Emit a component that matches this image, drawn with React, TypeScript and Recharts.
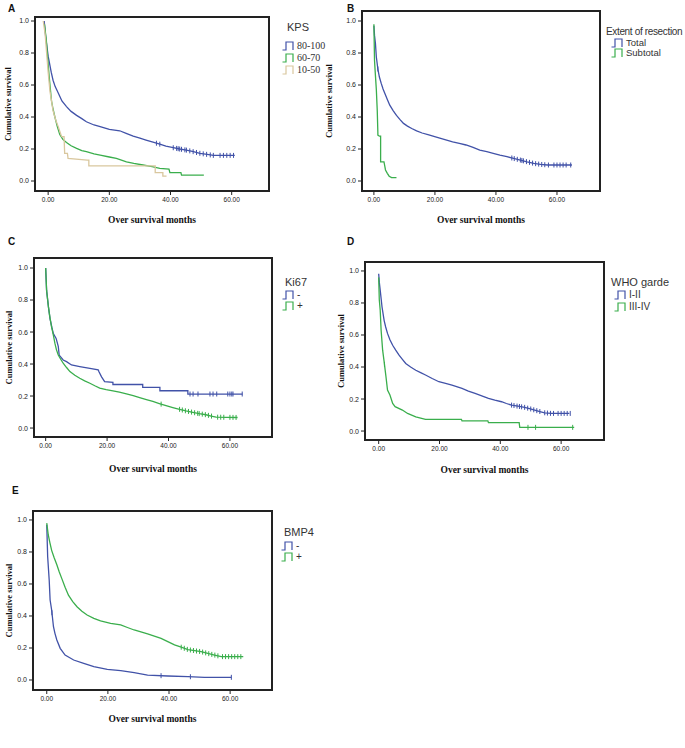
import React from 'react';
import { ComposedChart, Line, Scatter, XAxis, YAxis, ReferenceArea } from 'recharts';

const BLUE = '#4152a8';
const GREEN = '#3aae4c';
const TAN = '#d9c79e';

const yTicks = [0, 0.2, 0.4, 0.6, 0.8, 1.0];
const xTicks = [0, 20, 40, 60];

// A: KPS
const kpsHighTime = [-1.3, -0.8, -0.4, 0, 0.5, 1, 1.6, 2.3, 3.3, 4.5, 6, 7.5, 9.3, 11, 12.5, 15, 17, 20, 23.4, 25.5, 27.8, 30, 32, 34, 36.5, 38.5, 40.9, 43, 45.2, 47.5, 49.6, 52, 54, 61];
const kpsHighSurv = [1.0, 0.9, 0.84, 0.78, 0.73, 0.68, 0.63, 0.59, 0.55, 0.5, 0.465, 0.435, 0.41, 0.39, 0.37, 0.35, 0.34, 0.322, 0.314, 0.298, 0.28, 0.268, 0.256, 0.244, 0.23, 0.218, 0.208, 0.2, 0.193, 0.183, 0.173, 0.166, 0.16, 0.16];
const kpsHighCensor = [35.4, 36.5, 40.9, 42, 42.5, 43, 43.6, 44.7, 45.2, 46.3, 47.4, 48.5, 49.6, 50.7, 51.8, 53, 54, 56.2, 57.3, 58.4, 59.5, 60.6];
const kpsMidTime = [-1.2, -0.6, -0.2, 0.3, 0.7, 1.1, 1.6, 2.2, 3, 3.8, 4.8, 6, 7.5, 9.3, 11, 12.5, 15, 17, 20, 22.3, 25.6, 28, 31, 34, 36.5, 39.5, 39.8, 43.4, 43.6, 50.9];
const kpsMidSurv = [0.98, 0.88, 0.78, 0.66, 0.58, 0.5, 0.45, 0.4, 0.34, 0.29, 0.26, 0.24, 0.22, 0.204, 0.19, 0.183, 0.17, 0.162, 0.15, 0.141, 0.12, 0.11, 0.1, 0.09, 0.079, 0.075, 0.052, 0.052, 0.037, 0.037];
const kpsLowTime = [-1.6, -1, -0.5, 0, 0.6, 1.6, 2.5, 3.3, 4.4, 5.2, 5.4, 6.3, 6.5, 12.8, 13.3, 13.3, 35, 35, 37.5, 37.5, 38.7];
const kpsLowSurv = [1.0, 0.92, 0.8, 0.68, 0.56, 0.44, 0.38, 0.34, 0.277, 0.277, 0.173, 0.173, 0.141, 0.131, 0.131, 0.094, 0.094, 0.052, 0.052, 0.031, 0.031];

// B: extent of resection
const totalTime = [0, 0.2, 0.5, 0.8, 1.3, 1.8, 2.4, 3, 3.6, 4.4, 5.2, 6.3, 7.4, 8.5, 9.7, 11, 12.4, 14, 15.8, 18, 20.2, 23, 25.8, 28, 30.2, 32.5, 34.7, 37, 39.1, 41.3, 43.6, 45.8, 48, 50.2, 52.4, 54.6, 56.9, 64.9];
const totalSurv = [0.97, 0.91, 0.86, 0.775, 0.7, 0.65, 0.61, 0.575, 0.547, 0.51, 0.474, 0.44, 0.41, 0.385, 0.36, 0.343, 0.328, 0.313, 0.3, 0.288, 0.276, 0.26, 0.245, 0.235, 0.225, 0.21, 0.193, 0.183, 0.173, 0.162, 0.152, 0.141, 0.131, 0.12, 0.11, 0.104, 0.1, 0.1];
const totalCensor = [1.3, 45.2, 46, 47, 48, 48.5, 49, 50, 51, 52, 53, 54, 55, 56, 57.2, 59, 60, 61, 62, 63, 64.5];
const subtotalTime = [0, 0.2, 0.4, 0.8, 1.1, 1.3, 1.3, 1.8, 2.2, 2.2, 3.3, 3.5, 3.8, 4.4, 5, 5.8, 7.4];
const subtotalSurv = [0.98, 0.755, 0.69, 0.57, 0.44, 0.3, 0.287, 0.28, 0.28, 0.12, 0.12, 0.1, 0.069, 0.048, 0.03, 0.021, 0.021];

// C: Ki67
const kiNegTime = [0, 0.3, 0.9, 1.4, 2, 2.5, 3.4, 4.1, 4.4, 5.7, 6.8, 8.4, 11.1, 14.4, 17.1, 17.4, 18.2, 19.2, 21.9, 21.9, 31.6, 31.6, 37.2, 37.2, 46.3, 46.3, 64.1];
const kiNegSurv = [1.0, 0.86, 0.757, 0.685, 0.63, 0.59, 0.56, 0.51, 0.456, 0.425, 0.415, 0.394, 0.384, 0.373, 0.363, 0.35, 0.32, 0.29, 0.285, 0.272, 0.272, 0.254, 0.254, 0.233, 0.233, 0.2125, 0.2125];
const kiNegCensor = [47, 48, 49.6, 53.5, 54.5, 55.7, 59.3, 60, 60.6, 61, 64];
const kiPosTime = [0, 0.3, 0.9, 1.4, 1.9, 2.5, 3, 3.5, 4.1, 4.9, 5.7, 6.8, 7.9, 9.5, 11.1, 12.7, 14.4, 16, 17.6, 19.7, 21.9, 24, 26.3, 28.5, 30.6, 32.8, 34.9, 37, 39.2, 41.4, 43.6, 45.7, 47.9, 50, 52.2, 53.9, 55.5, 62.5];
const kiPosSurv = [1.0, 0.86, 0.757, 0.69, 0.633, 0.58, 0.53, 0.49, 0.456, 0.43, 0.405, 0.378, 0.353, 0.33, 0.311, 0.295, 0.28, 0.264, 0.249, 0.24, 0.232, 0.225, 0.213, 0.202, 0.19, 0.178, 0.166, 0.153, 0.14, 0.128, 0.117, 0.107, 0.098, 0.09, 0.083, 0.075, 0.068, 0.066];
const kiPosCensor = [37.6, 43.6, 44.5, 45.5, 46.5, 47.5, 48.5, 49.5, 50, 51, 52, 53, 54, 56, 57, 58, 60, 61, 62];

// D: WHO grade
const whoLowTime = [0, 0.2, 0.5, 1.1, 1.8, 2.3, 2.9, 3.7, 4.6, 5.6, 6.7, 7.8, 8.9, 10.5, 12.2, 13.8, 15.4, 17.6, 19.8, 22, 24.1, 27.4, 29.5, 31.7, 33.9, 36.1, 38.2, 40.4, 42, 43.7, 45.8, 48, 49.6, 51.3, 53, 54.6, 56.7, 62.7];
const whoLowSurv = [0.983, 0.93, 0.88, 0.775, 0.69, 0.65, 0.61, 0.57, 0.536, 0.505, 0.474, 0.448, 0.422, 0.4, 0.38, 0.365, 0.35, 0.328, 0.308, 0.297, 0.287, 0.266, 0.25, 0.235, 0.22, 0.204, 0.193, 0.183, 0.172, 0.162, 0.155, 0.148, 0.14, 0.131, 0.122, 0.114, 0.11, 0.11];
const whoLowCensor = [43.7, 44.5, 45.5, 46.3, 47, 48, 49, 50, 51, 52, 53, 54.6, 55.5, 56.5, 57.5, 59, 60, 61, 62, 63];
const whoHighTime = [0, 0.2, 0.5, 0.8, 1.3, 1.8, 2.4, 2.9, 3.7, 4.6, 5.4, 7.8, 9.5, 12.2, 15.4, 27.2, 27.4, 35.9, 36.1, 46.2, 46.4, 64.3];
const whoHighSurv = [0.96, 0.82, 0.755, 0.63, 0.505, 0.432, 0.339, 0.256, 0.225, 0.173, 0.152, 0.131, 0.11, 0.089, 0.073, 0.073, 0.064, 0.064, 0.052, 0.052, 0.023, 0.023];
const whoHighCensor = [1.9, 49.1, 51.6, 63.8];

// E: BMP4
const bmpNegTime = [0, 0.3, 0.8, 1.1, 1.6, 2.2, 2.7, 3.3, 4.4, 6, 8.8, 12.1, 15.4, 19.8, 24.2, 28.6, 33, 39.6, 46.2, 51.6, 60.4];
const bmpNegSurv = [0.97, 0.77, 0.625, 0.5, 0.4375, 0.333, 0.29, 0.25, 0.198, 0.156, 0.125, 0.104, 0.083, 0.067, 0.058, 0.046, 0.031, 0.025, 0.021, 0.0167, 0.0167];
const bmpNegCensor = [1.7, 37.4, 47, 60.4];
const bmpPosTime = [0, 0.5, 1, 1.6, 2.4, 3.3, 4.1, 4.9, 6, 7.1, 8.5, 9.9, 11.5, 13.2, 15.4, 17.6, 20.9, 24.2, 26.4, 28.6, 30.8, 33, 35.2, 37.4, 39.6, 41.8, 44, 46.2, 48.4, 50.5, 52.7, 54.9, 57.1, 64.3];
const bmpPosSurv = [0.98, 0.906, 0.86, 0.81, 0.765, 0.72, 0.675, 0.635, 0.58, 0.53, 0.49, 0.458, 0.43, 0.406, 0.385, 0.37, 0.354, 0.344, 0.328, 0.3125, 0.3, 0.2875, 0.274, 0.26, 0.24, 0.219, 0.205, 0.19, 0.183, 0.177, 0.166, 0.156, 0.146, 0.146];
const bmpPosCensor = [44, 45, 46, 47, 48, 49, 50, 51, 52, 53, 54, 55, 56, 57.5, 58.5, 59.5, 60.5, 61.5, 62.5, 63.5];

type Series = { name: string; color: string; time: number[]; surv: number[]; censor: number[] };

const toPoints = (time: number[], surv: number[]) => time.map((t, i) => ({ t, s: surv[i] }));

// put each censor tick on the drawn curve
const toCensor = (censor: number[], time: number[], surv: number[]) =>
  censor.map((c) => {
    let s = surv[surv.length - 1];
    for (let i = 0; i < time.length - 1; i++) {
      if (c >= time[i] && c <= time[i + 1]) {
        const span = time[i + 1] - time[i];
        s = span === 0 ? surv[i + 1] : surv[i] + ((c - time[i]) / span) * (surv[i + 1] - surv[i]);
        break;
      }
    }
    return { t: c, s };
  });

const SANS = '"Liberation Sans", Arial, sans-serif';
const SERIF = '"Liberation Serif", "Times New Roman", serif';

const panels = [
  {
    letter: 'A', letterAt: [8, 3],
    box: { left: 0, top: 0, width: 345, height: 232 },
    frame: { l: 35, t: 17, r: 269, b: 191 },
    xDomain: [-4.3, 72.2], yDomain: [-0.0625, 1.025],
    yTitleX: 8, xTitleBottom: 223,
    legend: { title: 'KPS', x: 287, titleTop: 21, titleSize: 11, spacing: 0, iconX: 282, rows: [41, 53, 65], font: SERIF, size: 10 },
    series: [
      { name: '80-100', color: BLUE, time: kpsHighTime, surv: kpsHighSurv, censor: kpsHighCensor },
      { name: '60-70', color: GREEN, time: kpsMidTime, surv: kpsMidSurv, censor: [] },
      { name: '10-50', color: TAN, time: kpsLowTime, surv: kpsLowSurv, censor: [] },
    ],
  },
  {
    letter: 'B', letterAt: [347, 3],
    box: { left: 320, top: 0, width: 365, height: 232 },
    frame: { l: 362, t: 11, r: 600, b: 191 },
    xDomain: [-3.9, 74.1], yDomain: [-0.0625, 1.0625],
    yTitleX: 329, xTitleBottom: 223,
    legend: { title: 'Extent of resection', x: 606, titleTop: 26, titleSize: 10, spacing: -0.35, iconX: 611, rows: [38, 48], font: SANS, size: 9.5 },
    series: [
      { name: 'Total', color: BLUE, time: totalTime, surv: totalSurv, censor: totalCensor },
      { name: 'Subtotal', color: GREEN, time: subtotalTime, surv: subtotalSurv, censor: [] },
    ],
  },
  {
    letter: 'C', letterAt: [8, 236],
    box: { left: 0, top: 240, width: 330, height: 240 },
    frame: { l: 34, t: 258, r: 272, b: 437 },
    xDomain: [-3.8, 73.7], yDomain: [-0.056, 1.0625],
    yTitleX: 9, xTitleBottom: 472,
    legend: { title: 'Ki67', x: 285, titleTop: 276, titleSize: 11, spacing: 0, iconX: 282, rows: [290, 301], font: SANS, size: 10 },
    series: [
      { name: '-', color: BLUE, time: kiNegTime, surv: kiNegSurv, censor: kiNegCensor },
      { name: '+', color: GREEN, time: kiPosTime, surv: kiPosSurv, censor: kiPosCensor },
    ],
  },
  {
    letter: 'D', letterAt: [347, 236],
    box: { left: 330, top: 240, width: 355, height: 240 },
    frame: { l: 365, t: 262, r: 604, b: 440 },
    xDomain: [-4.5, 74.1], yDomain: [-0.056, 1.056],
    yTitleX: 341, xTitleBottom: 473,
    legend: { title: 'WHO garde', x: 611, titleTop: 276, titleSize: 11, spacing: 0, iconX: 614, rows: [290, 302], font: SANS, size: 10 },
    series: [
      { name: 'I-II', color: BLUE, time: whoLowTime, surv: whoLowSurv, censor: whoLowCensor },
      { name: 'III-IV', color: GREEN, time: whoHighTime, surv: whoHighSurv, censor: whoHighCensor },
    ],
  },
  {
    letter: 'E', letterAt: [12, 485],
    box: { left: 0, top: 495, width: 345, height: 235 },
    frame: { l: 33, t: 511, r: 272, b: 690 },
    xDomain: [-4.5, 73.7], yDomain: [-0.0625, 1.056],
    yTitleX: 9, xTitleBottom: 722,
    legend: { title: 'BMP4', x: 284, titleTop: 526, titleSize: 11, spacing: 0, iconX: 281, rows: [541, 552], font: SANS, size: 10 },
    series: [
      { name: '-', color: BLUE, time: bmpNegTime, surv: bmpNegSurv, censor: bmpNegCensor },
      { name: '+', color: GREEN, time: bmpPosTime, surv: bmpPosSurv, censor: bmpPosCensor },
    ],
  },
];

function StepIcon({ color }: { color: string }) {
  return (
    <svg width={13} height={10} style={{ display: 'block' }}>
      <path d="M0.5 9 H4 V1 H11 V9" fill="none" stroke={color} strokeWidth={1.2} />
    </svg>
  );
}

function KMPanel({ p }: { p: (typeof panels)[number] }) {
  const { box, frame } = p;
  const margin = { top: frame.t - box.top, right: box.left + box.width - frame.r, left: 0, bottom: 0 };
  const yAxisWidth = frame.l - box.left;
  const xAxisHeight = box.top + box.height - frame.b;
  return (
    <>
      <div style={{ position: 'absolute', left: p.letterAt[0], top: p.letterAt[1], font: `bold 10px ${SANS}`, color: '#111', lineHeight: '12px' }}>
        {p.letter}
      </div>
      <div style={{ position: 'absolute', left: box.left, top: box.top }}>
        <ComposedChart width={box.width} height={box.height} margin={margin}>
          <XAxis
            type="number"
            dataKey="t"
            domain={p.xDomain}
            ticks={xTicks}
            allowDataOverflow
            height={xAxisHeight}
            axisLine={false}
            tickSize={4}
            tickLine={{ stroke: '#222' }}
            tickFormatter={(v: number) => v.toFixed(2)}
            tick={{ fontSize: 6.5, fill: '#222', fontFamily: SANS }}
            label={{
              value: 'Over survival months',
              position: 'insideBottom',
              offset: box.top + box.height - p.xTitleBottom,
              fill: '#111',
              fontSize: 9.5,
              fontWeight: 'bold',
              fontFamily: SERIF,
            }}
          />
          <YAxis
            type="number"
            dataKey="s"
            domain={p.yDomain}
            ticks={yTicks}
            allowDataOverflow
            width={yAxisWidth}
            axisLine={false}
            tickSize={4}
            tickLine={{ stroke: '#222' }}
            tickFormatter={(v: number) => v.toFixed(1)}
            tick={{ fontSize: 7, fill: '#222', fontFamily: SANS }}
            label={{
              value: 'Cumulative survival',
              angle: -90,
              position: 'insideLeft',
              offset: p.yTitleX - box.left,
              fill: '#111',
              fontSize: 8.5,
              fontWeight: 'bold',
              fontFamily: SERIF,
              style: { textAnchor: 'middle' },
            }}
          />
          <ReferenceArea
            x1={p.xDomain[0]}
            x2={p.xDomain[1]}
            y1={p.yDomain[0]}
            y2={p.yDomain[1]}
            fill="none"
            stroke="#222"
            strokeWidth={2}
            ifOverflow="visible"
          />
          {p.series.map((s: Series) => (
            <Line
              key={s.name + s.color}
              data={toPoints(s.time, s.surv)}
              dataKey="s"
              type="linear"
              stroke={s.color}
              strokeWidth={1.3}
              dot={false}
              isAnimationActive={false}
            />
          ))}
          {p.series
            .filter((s: Series) => s.censor.length > 0)
            .map((s: Series) => (
              <Scatter
                key={'c' + s.name + s.color}
                data={toCensor(s.censor, s.time, s.surv)}
                dataKey="s"
                isAnimationActive={false}
                shape={(props: any) => (
                  <line x1={props.cx} x2={props.cx} y1={props.cy - 2.5} y2={props.cy + 2.5} stroke={s.color} strokeWidth={1} />
                )}
              />
            ))}
        </ComposedChart>
      </div>
      <div
        style={{
          position: 'absolute', left: p.legend.x, top: p.legend.titleTop, fontFamily: SANS, fontSize: p.legend.titleSize,
          letterSpacing: p.legend.spacing, color: '#333', lineHeight: '12px', whiteSpace: 'nowrap',
        }}
      >
        {p.legend.title}
      </div>
      {p.series.map((s: Series, i: number) => (
        <div
          key={'l' + i}
          style={{ position: 'absolute', left: p.legend.iconX, top: p.legend.rows[i], height: 10, display: 'flex', alignItems: 'center', whiteSpace: 'nowrap' }}
        >
          <StepIcon color={s.color} />
          <span style={{ marginLeft: 2, fontFamily: p.legend.font, fontSize: p.legend.size, color: '#333', lineHeight: '10px' }}>{s.name}</span>
        </div>
      ))}
    </>
  );
}

export default function App() {
  return (
    <div style={{ position: 'absolute', left: 0, top: 0, width: 685, height: 748, background: '#fff', overflow: 'hidden' }}>
      {panels.map((p) => (
        <KMPanel key={p.letter} p={p} />
      ))}
    </div>
  );
}
